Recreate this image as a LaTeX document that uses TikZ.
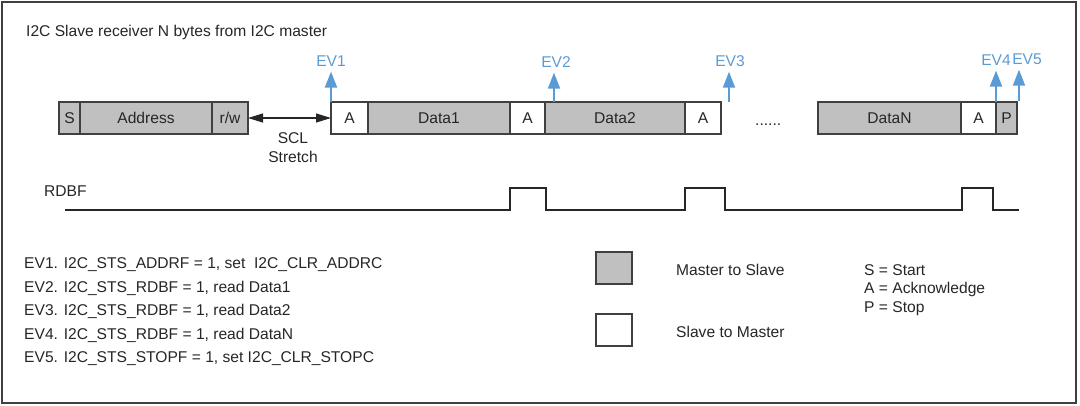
\documentclass[tikz,border=0pt]{standalone}
\usepackage{fontspec}
\setmainfont{Liberation Sans}
\usepackage{xcolor}
\definecolor{Frame}{HTML}{404040}
\definecolor{Ink}{HTML}{262626}
\definecolor{MasterGray}{HTML}{C0C0C0}
\definecolor{EvBlue}{HTML}{5B9BD5}
\usepackage{tikz}
\usetikzlibrary{arrows.meta,positioning}
\newcommand{\diafont}{\fontsize{15.6}{18.8}\selectfont}

\begin{document}
\begin{tikzpicture}[x=1pt,y=-1pt,
  frame/.style={draw=Frame,line width=1.3pt},
  field/.style={draw=Frame,line width=1.2pt,fill=MasterGray,minimum height=32pt,inner sep=0pt,outer sep=0pt,font=\diafont,text=Ink},
  ack/.style={field,fill=white},
  lbl/.style={inner sep=0pt,font=\diafont,text=Ink},
  evlbl/.style={inner sep=0pt,font=\diafont,text=EvBlue},
  evarrow/.style={draw=EvBlue,line width=2pt,-{Triangle[width=12pt,length=16pt]},shorten >=5pt},
  stretcharrow/.style={draw=Ink,line width=1.2pt,{Triangle[width=9pt,length=15pt]}-{Triangle[width=9pt,length=15pt]}},
  wave/.style={draw=Ink,line width=1.5pt}
]
  \useasboundingbox (0,0) rectangle (1080,406);
  \draw[frame] (2,2) rectangle (1076,403);

  \node[lbl,anchor=west] (title) at (26,32) {I2C Slave receiver N bytes from I2C master};

  \node[field,minimum width=21pt] (s) at (69.5,118) {S};
  \node[field,minimum width=132pt,right=0pt of s] (addr) {Address};
  \node[field,minimum width=36pt,right=0pt of addr] (rw) {r/w};
  \node[ack,minimum width=37pt,right=83pt of rw] (a1) {A};
  \node[field,minimum width=142pt,right=0pt of a1] (data1) {Data1};
  \node[ack,minimum width=35pt,right=0pt of data1] (a2) {A};
  \node[field,minimum width=140pt,right=0pt of a2] (data2) {Data2};
  \node[ack,minimum width=36pt,right=0pt of data2] (a3) {A};
  \node[lbl,right=34pt of a3,yshift=-7pt] (dots) {......};
  \node[field,minimum width=143pt,right=97pt of a3] (datan) {DataN};
  \node[ack,minimum width=35pt,right=0pt of datan] (a4) {A};
  \node[field,minimum width=21pt,right=0pt of a4] (p) {P};

  \draw[stretcharrow] (rw) -- (a1);
  \node[lbl,align=center] (scl) at (293,148) {SCL\\Stretch};

  \node[evlbl] (ev1) at (331,61) {EV1};
  \node[evlbl] (ev2) at (556,62) {EV2};
  \node[evlbl] (ev3) at (730,61) {EV3};
  \node[evlbl] (ev4) at (996,60) {EV4};
  \node[evlbl] (ev5) at (1027,59) {EV5};
  \coordinate (ev1base) at (a1.north west);
  \coordinate (ev2base) at ([xshift=9pt]data2.north west);
  \coordinate (ev3base) at ([xshift=8pt]a3.north east);
  \coordinate (ev4base) at (a4.north east);
  \coordinate (ev5base) at ([xshift=2pt,yshift=1pt]p.north east);
  \draw[evarrow] (ev1base) -- (ev1base |- ev1.south);
  \draw[evarrow] (ev2base) -- (ev2base |- ev2.south);
  \draw[evarrow] (ev3base) -- (ev3base |- ev3.south);
  \draw[evarrow] (ev4base) -- (ev4base |- ev4.south);
  \draw[evarrow] (ev5base) -- (ev5base |- ev5.south);

  \node[lbl,anchor=west] (rdbf) at (44,191) {RDBF};
  \draw[wave] (65,210) -- (510,210) -- (510,188) -- (546,188) -- (546,210)
    -- (685,210) -- (685,188) -- (725,188) -- (725,210)
    -- (962,210) -- (962,188) -- (993,188) -- (993,210) -- (1019,210);

  \node[lbl,anchor=west,align=left,font=\fontsize{15.6}{23.5}\selectfont] (events) at (24,312)
    {EV1. I2C\_STS\_ADDRF = 1, set~ I2C\_CLR\_ADDRC\\
     EV2. I2C\_STS\_RDBF = 1, read Data1\\
     EV3. I2C\_STS\_RDBF = 1, read Data2\\
     EV4. I2C\_STS\_RDBF = 1, read DataN\\
     EV5. I2C\_STS\_STOPF = 1, set I2C\_CLR\_STOPC};

  \node[field,minimum width=36pt] (keym) at (614,268) {};
  \node[ack,minimum width=36pt,below=30pt of keym] (keys) {};
  \node[lbl,right=44pt of keym,yshift=-2pt] (keymtxt) {Master to Slave};
  \node[lbl,right=44pt of keys,yshift=-2pt] (keystxt) {Slave to Master};
  \node[lbl,anchor=west,align=left] (abbr) at (864,290) {S = Start\\A = Acknowledge\\P = Stop};
\end{tikzpicture}
\end{document}
